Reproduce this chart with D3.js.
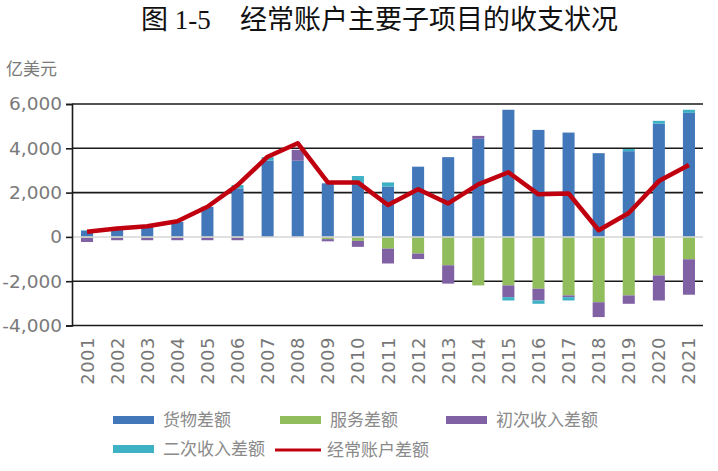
<!DOCTYPE html>
<html lang="zh">
  <head>
    <meta charset="UTF-8" />
    <title>经常账户主要子项目的收支状况</title>
    <style>
        body{
            margin: 0;
            background: #fff;
        }
        .title{
            font-family: "Liberation Serif", "Noto Sans CJK SC", serif;
            font-size: 27px;
            fill: #111;
        }
        .yAxis text, .unit{
            font-family: "DejaVu Sans", sans-serif;
            font-size: 18.5px;
            fill: #7a7a7a;
        }
        .unit{
            font-family: "Noto Sans CJK SC", sans-serif;
            font-size: 17px;
        }
        .xAxis text{
            font-family: "DejaVu Sans", sans-serif;
            font-size: 18px;
            letter-spacing: 0.5px;
            fill: #777;
        }
        .legend text{
            font-family: "Noto Sans CJK SC", sans-serif;
            font-size: 17px;
            fill: #8a8a8a;
        }
    </style>
    <script src="https://d3js.org/d3.v7.min.js"></script>
  </head>
  <body>
    <div class="wrap-data"></div>
    <script>
        // 亿美元
        const years = ["2001","2002","2003","2004","2005","2006","2007","2008","2009","2010",
                       "2011","2012","2013","2014","2015","2016","2017","2018","2019","2020","2021"];
        const goods = [280, 380, 450, 680, 1360, 2190, 3450, 3440, 2420, 2460,
                       2270, 3170, 3600, 4430, 5740, 4830, 4710, 3780, 3870, 5110, 5600];
        const services = [-40, -40, -40, -40, -40, -40, 0, 0, -100, -180,
                          -530, -750, -1280, -2190, -2190, -2340, -2640, -2950, -2640, -1740, -1010];
        const primaryIncome = [-190, -110, -110, -110, -110, -110, 0, 490, -100, -270,
                               -670, -250, -830, 130, -530, -530, -80, -670, -380, -1130, -1600];
        const secondaryIncome = [20, 0, 0, 0, 0, 150, 150, 0, 0, 290,
                                 190, 0, 0, 0, -150, -150, -150, 0, 100, 130, 140];
        const currentAccount = [230, 380, 480, 710, 1360, 2340, 3620, 4230, 2460, 2460,
                                1440, 2150, 1510, 2370, 2920, 1920, 1960, 300, 1080, 2520, 3250];
        const yTicks = [-4000, -2000, 0, 2000, 4000, 6000];

        const keys = ["goods", "services", "primary", "secondary"];
        const names = {goods: "货物差额", services: "服务差额", primary: "初次收入差额", secondary: "二次收入差额"};
        const colors = {goods: "#4277ba", services: "#91bd5c", primary: "#8061a4", secondary: "#3fb1c5"};
        const lineColor = "#c0000f";

        const table = years.map((y, i) => ({
            year: y,
            goods: goods[i],
            services: services[i],
            primary: primaryIncome[i],
            secondary: secondaryIncome[i]
        }));

        let width = 718;
        let height = 471;
        const svg = d3.select(".wrap-data")
                    .append("svg")
                    .attr("width", width)
                    .attr("height", height);

        const plotLeft = 72, plotRight = 704, plotTop = 104, plotBottom = 325.5;

        const scaleX = d3.scaleBand().domain(years).range([plotLeft, plotRight]).paddingInner(0.6).paddingOuter(0.3);
        const scaleY = d3.scaleLinear().domain([-4000, 6000]).range([plotBottom, plotTop]);

        // title
        svg.append("text").classed("title", true).attr("x", 141).attr("y", 29).text("图 1-5");
        svg.append("text").classed("title", true).attr("x", 240).attr("y", 29).text("经常账户主要子项目的收支状况");
        svg.append("text").classed("unit", true).attr("x", 6).attr("y", 75).text("亿美元");

        // grid
        svg.append("g")
            .selectAll("line")
            .data(yTicks.filter(d => d !== 0))
            .join("line")
            .attr("x1", plotLeft).attr("x2", plotRight - 1)
            .attr("y1", d => scaleY(d)).attr("y2", d => scaleY(d))
            .attr("stroke", "#1a1a1a")
            .attr("stroke-width", 1.6);

        // bars
        const series = d3.stack().keys(keys).offset(d3.stackOffsetDiverging)(table);
        svg.append("g")
            .selectAll("g")
            .data(series)
            .join("g")
            .attr("fill", d => colors[d.key])
            .selectAll("rect")
            .data(d => d)
            .join("rect")
            .attr("x", d => scaleX(d.data.year))
            .attr("width", scaleX.bandwidth())
            .attr("y", d => scaleY(Math.max(d[0], d[1])))
            .attr("height", d => Math.abs(scaleY(d[0]) - scaleY(d[1])));

        // zero line
        svg.append("line")
            .attr("x1", plotLeft).attr("x2", plotRight - 1)
            .attr("y1", scaleY(0)).attr("y2", scaleY(0))
            .attr("stroke", "#d6d6d6")
            .attr("stroke-width", 1.5);

        // y axis
        const fmt = d3.format(",");
        const axisY = d3.axisLeft(scaleY)
                        .tickValues(yTicks)
                        .tickFormat(d => fmt(d).replace("\u2212", "-"))
                        .tickSize(6)
                        .tickPadding(4);
        const gY = svg.append("g")
                    .attr("transform", `translate(${plotLeft},0)`)
                    .classed("yAxis", true)
                    .call(axisY);
        gY.select(".domain").attr("stroke", "#1a1a1a").attr("stroke-width", 1.6);
        gY.selectAll(".tick line").attr("stroke", "#1a1a1a").attr("stroke-width", 1.6);

        // x labels
        const gX = svg.append("g").classed("xAxis", true);
        gX.selectAll("text")
            .data(years)
            .join("text")
            .attr("transform", d => `translate(${scaleX(d) + scaleX.bandwidth() / 2 + 6.5},337) rotate(-90)`)
            .attr("text-anchor", "end")
            .text(d => d);

        // current account line
        const line = d3.line()
                        .x((d, i) => scaleX(years[i]) + scaleX.bandwidth() / 2)
                        .y(d => scaleY(d));
        svg.append("path")
            .datum(currentAccount)
            .attr("d", line)
            .attr("fill", "none")
            .attr("stroke", lineColor)
            .attr("stroke-width", 4.5)
            .attr("stroke-linejoin", "round");

        // legend
        const legendItems = [
            {key: "goods", x: 113, y: 420},
            {key: "services", x: 280, y: 420},
            {key: "primary", x: 446, y: 420},
            {key: "secondary", x: 113, y: 449}
        ];
        const gL = svg.append("g").classed("legend", true);
        legendItems.forEach(item => {
            gL.append("rect")
                .attr("x", item.x).attr("y", item.y - 4)
                .attr("width", 41).attr("height", 8)
                .attr("fill", colors[item.key]);
            gL.append("text")
                .attr("x", item.x + 50).attr("y", item.y + 6)
                .text(names[item.key]);
        });
        gL.append("line")
            .attr("x1", 275).attr("x2", 321)
            .attr("y1", 450).attr("y2", 450)
            .attr("stroke", lineColor)
            .attr("stroke-width", 3);
        gL.append("text")
            .attr("x", 327).attr("y", 456)
            .text("经常账户差额");
    </script>
  </body>
</html>
